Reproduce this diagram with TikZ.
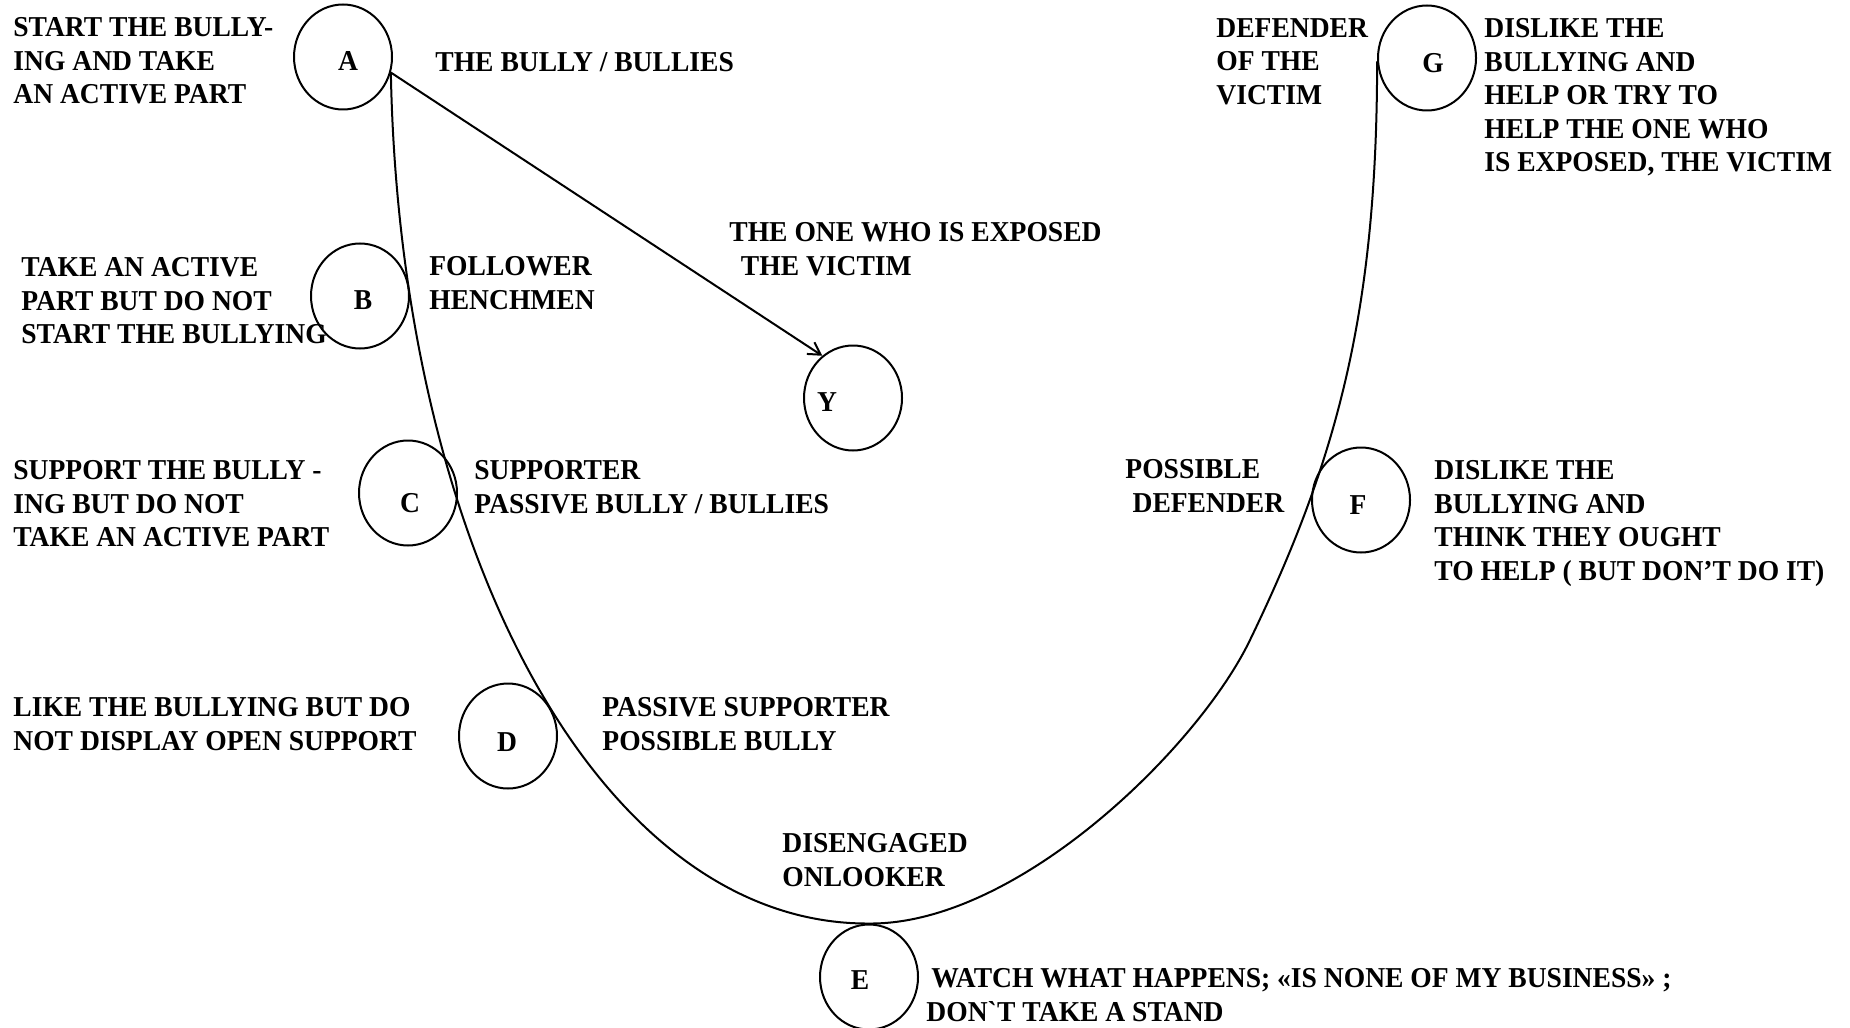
\documentclass[tikz,border=0pt]{standalone}
\usepackage{fontspec}
\setmainfont{Liberation Serif}[FakeStretch=0.957]
\usetikzlibrary{shapes.geometric,arrows.meta}
\begin{document}
\begin{tikzpicture}[x=0.5pt,y=-0.5pt,
  circ/.style={draw,ellipse,line width=1pt,minimum width=49pt,minimum height=52.5pt,inner sep=0pt},
  lettr/.style={font=\fontsize{14.4}{16.8}\selectfont\bfseries,inner sep=0pt},
  txt/.style={font=\fontsize{14.4}{16.8}\selectfont\bfseries,align=left,anchor=north west,inner sep=0pt},
  conn/.style={line width=1pt},
  arr/.style={line width=1pt,-{Straight Barb[length=6pt,width=7pt]}}]
\fill[white] (0,0) rectangle (1850,1027);
\useasboundingbox (0,0) rectangle (1850,1027);

% ellipses
\node[circ] (A) at (343,57) {};
\node[circ] (B) at (360,296) {};
\node[circ] (C) at (408,493) {};
\node[circ] (D) at (508,736) {};
\node[circ] (E) at (869,977) {};
\node[circ] (F) at (1361,500) {};
\node[circ] (G) at (1427,58) {};
\node[circ] (Y) at (853,398) {};

% letters
\node[lettr] (lA) at (348,61) {A};
\node[lettr] (lB) at (363,300) {B};
\node[lettr] (lC) at (410,503) {C};
\node[lettr] (lD) at (507,742) {D};
\node[lettr] (lE) at (860,980) {E};
\node[lettr] (lF) at (1358,505) {F};
\node[lettr] (lG) at (1433,63) {G};
\node[lettr] (lY) at (827,402) {Y};

% U-shaped curve
\coordinate (mid) at (1250,640);
\draw[conn] (A.-18) .. controls (400,550) and (600,925) .. (E.north)
  .. controls (1017,925) and (1198,748) .. (mid)
  .. controls (1337,460) and (1377,312) .. (G.184);

% arrow
\draw[arr] (A.-18) -- (Y.126);

% texts
\node[txt] (t1) at (13,17) {START THE BULLY-\\ING AND TAKE\\AN ACTIVE PART};
\node[txt] (t2) at (435,52) {THE BULLY / BULLIES};
\node[txt] (t3) at (21,257) {TAKE AN ACTIVE\\PART BUT DO NOT\\START THE BULLYING};
\node[txt] (t4) at (429,256) {FOLLOWER\\HENCHMEN};
\node[txt] (t5) at (729,222) {THE ONE WHO IS EXPOSED\\\hspace*{0.4em}THE VICTIM};
\node[txt] (t6) at (13,460) {SUPPORT THE BULLY -\\ING BUT DO NOT\\TAKE AN ACTIVE PART};
\node[txt] (t7) at (474,460) {SUPPORTER\\PASSIVE BULLY / BULLIES};
\node[txt] (t8) at (13,697) {LIKE THE BULLYING BUT DO\\NOT DISPLAY OPEN SUPPORT};
\node[txt] (t9) at (602,697) {PASSIVE SUPPORTER\\POSSIBLE BULLY};
\node[txt] (t10) at (782,833) {DISENGAGED\\ONLOOKER};
\node[txt] (t11) at (931,968) {WATCH WHAT HAPPENS; «IS NONE OF MY BUSINESS» ;\\\hspace*{-2.5pt}DON\textasciigrave T TAKE A STAND};
\node[txt] (t12) at (1125,459) {POSSIBLE\\\hspace*{0.25em}DEFENDER};
\node[txt] (t13) at (1434,460) {DISLIKE THE\\BULLYING AND\\THINK THEY OUGHT\\TO HELP ( BUT DON’T DO IT)};
\node[txt] (t14) at (1216,18) {DEFENDER\\OF THE\\VICTIM};
\node[txt] (t15) at (1484,18) {DISLIKE THE\\BULLYING AND\\HELP OR TRY TO\\HELP THE ONE WHO\\IS EXPOSED, THE VICTIM};
\end{tikzpicture}
\end{document}
